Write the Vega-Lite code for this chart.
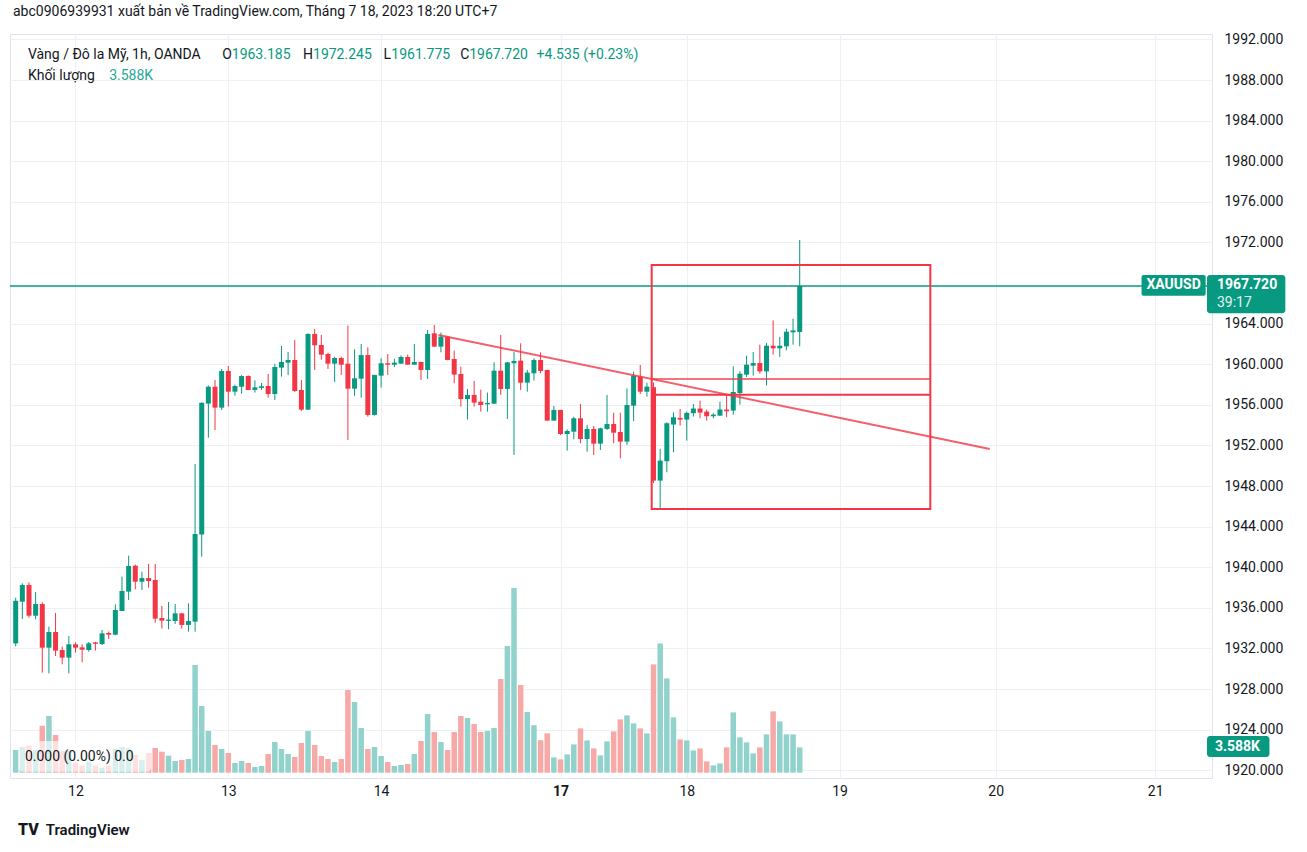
{
  "$schema": "https://vega.github.io/schema/vega-lite/v6.json",
  "width": 1202,
  "height": 744,
  "autosize": {"type": "none"},
  "padding": {"left": 10, "top": 34, "right": 95, "bottom": 74},
  "background": "#ffffff",
  "config": {
    "view": {"stroke": "#e0e3eb", "strokeWidth": 1},
    "font": "Roboto",
    "text": {"font": "Roboto"}
  },
  "title": {
    "text": "abc0906939931 xuất bản về TradingView.com, Tháng 7 18, 2023 18:20 UTC+7",
    "anchor": "start",
    "frame": "group",
    "dx": 3,
    "offset": 13,
    "fontSize": 14,
    "font": "Roboto",
    "fontWeight": "normal",
    "color": "#131722"
  },
  "datasets": {
    "bars": [
      {"i": -9, "o": 1932.5, "h": 1937.0, "l": 1932.2, "c": 1936.7, "v": 3219},
      {"i": -8, "o": 1936.61, "h": 1938.42, "l": 1934.91, "c": 1938.26, "v": 3687},
      {"i": -7, "o": 1938.26, "h": 1938.52, "l": 1935.04, "c": 1935.23, "v": 3829},
      {"i": -6, "o": 1935.23, "h": 1937.57, "l": 1934.87, "c": 1936.38, "v": 3219},
      {"i": -5, "o": 1936.38, "h": 1936.55, "l": 1929.62, "c": 1932.08, "v": 6665},
      {"i": -4, "o": 1932.08, "h": 1934.15, "l": 1929.55, "c": 1933.62, "v": 8040},
      {"i": -3, "o": 1933.62, "h": 1935.5, "l": 1931.26, "c": 1931.79, "v": 5346},
      {"i": -2, "o": 1931.85, "h": 1932.18, "l": 1930.44, "c": 1931.1, "v": 3077},
      {"i": -1, "o": 1931.1, "h": 1933.23, "l": 1929.55, "c": 1932.41, "v": 3077},
      {"i": 0, "o": 1932.41, "h": 1932.61, "l": 1931.59, "c": 1932.08, "v": 1461},
      {"i": 1, "o": 1932.11, "h": 1932.41, "l": 1930.64, "c": 1931.88, "v": 993},
      {"i": 2, "o": 1931.85, "h": 1932.64, "l": 1931.69, "c": 1932.51, "v": 1560},
      {"i": 3, "o": 1932.6, "h": 1932.66, "l": 1931.79, "c": 1932.46, "v": 993},
      {"i": 4, "o": 1932.44, "h": 1933.82, "l": 1932.34, "c": 1933.49, "v": 709},
      {"i": 5, "o": 1933.53, "h": 1933.66, "l": 1932.94, "c": 1933.36, "v": 993},
      {"i": 6, "o": 1933.36, "h": 1936.35, "l": 1933.3, "c": 1935.79, "v": 3361},
      {"i": 7, "o": 1935.69, "h": 1939.08, "l": 1935.69, "c": 1937.67, "v": 3644},
      {"i": 8, "o": 1937.6, "h": 1941.15, "l": 1936.78, "c": 1940.13, "v": 3502},
      {"i": 9, "o": 1940.16, "h": 1940.26, "l": 1937.83, "c": 1938.58, "v": 2510},
      {"i": 10, "o": 1938.58, "h": 1939.57, "l": 1937.76, "c": 1938.94, "v": 1801},
      {"i": 11, "o": 1938.94, "h": 1940.33, "l": 1937.99, "c": 1938.65, "v": 2793},
      {"i": 12, "o": 1938.75, "h": 1940.33, "l": 1934.54, "c": 1934.94, "v": 3502},
      {"i": 13, "o": 1935.0, "h": 1936.19, "l": 1933.96, "c": 1934.74, "v": 2978},
      {"i": 14, "o": 1934.72, "h": 1936.58, "l": 1933.89, "c": 1934.84, "v": 2411},
      {"i": 15, "o": 1934.71, "h": 1936.38, "l": 1934.41, "c": 1935.46, "v": 1659},
      {"i": 16, "o": 1935.46, "h": 1935.5, "l": 1933.96, "c": 1934.32, "v": 1801},
      {"i": 17, "o": 1934.32, "h": 1936.45, "l": 1933.66, "c": 1934.71, "v": 1943},
      {"i": 18, "o": 1934.64, "h": 1950.18, "l": 1933.66, "c": 1943.28, "v": 15272},
      {"i": 19, "o": 1943.22, "h": 1956.25, "l": 1941.05, "c": 1956.22, "v": 9458},
      {"i": 20, "o": 1956.12, "h": 1957.92, "l": 1952.77, "c": 1957.79, "v": 5913},
      {"i": 21, "o": 1957.79, "h": 1958.45, "l": 1953.52, "c": 1955.73, "v": 3928},
      {"i": 22, "o": 1955.73, "h": 1959.54, "l": 1955.5, "c": 1959.34, "v": 3361},
      {"i": 23, "o": 1959.34, "h": 1959.83, "l": 1955.83, "c": 1957.3, "v": 2793},
      {"i": 24, "o": 1957.3, "h": 1957.99, "l": 1956.9, "c": 1957.86, "v": 1375},
      {"i": 25, "o": 1957.79, "h": 1958.94, "l": 1957.1, "c": 1958.84, "v": 1659},
      {"i": 26, "o": 1958.85, "h": 1958.9, "l": 1957.45, "c": 1957.47, "v": 1375},
      {"i": 27, "o": 1957.47, "h": 1958.42, "l": 1957.21, "c": 1957.73, "v": 808},
      {"i": 28, "o": 1957.67, "h": 1958.16, "l": 1957.47, "c": 1957.83, "v": 950},
      {"i": 29, "o": 1957.86, "h": 1959.04, "l": 1956.71, "c": 1957.07, "v": 2652},
      {"i": 30, "o": 1957.07, "h": 1960.06, "l": 1956.48, "c": 1959.73, "v": 4353},
      {"i": 31, "o": 1959.67, "h": 1961.8, "l": 1958.78, "c": 1960.23, "v": 3361},
      {"i": 32, "o": 1960.16, "h": 1961.21, "l": 1958.95, "c": 1960.42, "v": 2652},
      {"i": 33, "o": 1960.42, "h": 1962.39, "l": 1957.27, "c": 1957.37, "v": 2226},
      {"i": 34, "o": 1957.47, "h": 1958.45, "l": 1955.4, "c": 1955.53, "v": 4211},
      {"i": 35, "o": 1955.53, "h": 1963.05, "l": 1955.5, "c": 1962.99, "v": 5913},
      {"i": 36, "o": 1962.99, "h": 1963.48, "l": 1959.44, "c": 1961.87, "v": 3928},
      {"i": 37, "o": 1961.9, "h": 1962.89, "l": 1960.46, "c": 1960.95, "v": 2368},
      {"i": 38, "o": 1961.01, "h": 1961.14, "l": 1959.54, "c": 1960.06, "v": 1943},
      {"i": 39, "o": 1960.06, "h": 1960.75, "l": 1958.26, "c": 1960.62, "v": 1517},
      {"i": 40, "o": 1960.62, "h": 1960.75, "l": 1958.95, "c": 1959.96, "v": 1943},
      {"i": 41, "o": 1960.06, "h": 1963.81, "l": 1952.55, "c": 1957.6, "v": 11727},
      {"i": 42, "o": 1957.6, "h": 1961.47, "l": 1956.91, "c": 1958.62, "v": 10025},
      {"i": 43, "o": 1958.58, "h": 1962.0, "l": 1956.71, "c": 1960.91, "v": 6338},
      {"i": 44, "o": 1960.91, "h": 1961.67, "l": 1954.84, "c": 1955.01, "v": 3361},
      {"i": 45, "o": 1955.01, "h": 1958.97, "l": 1954.94, "c": 1958.95, "v": 3644},
      {"i": 46, "o": 1958.88, "h": 1960.59, "l": 1957.7, "c": 1960.1, "v": 2368},
      {"i": 47, "o": 1960.1, "h": 1961.01, "l": 1958.95, "c": 1959.96, "v": 1517},
      {"i": 48, "o": 1959.96, "h": 1960.55, "l": 1959.73, "c": 1960.16, "v": 950},
      {"i": 49, "o": 1960.06, "h": 1960.88, "l": 1960.04, "c": 1960.72, "v": 1092},
      {"i": 50, "o": 1960.72, "h": 1960.95, "l": 1959.94, "c": 1959.96, "v": 1234},
      {"i": 51, "o": 1959.96, "h": 1962.0, "l": 1959.94, "c": 1960.23, "v": 2652},
      {"i": 52, "o": 1960.23, "h": 1960.25, "l": 1958.45, "c": 1959.44, "v": 4495},
      {"i": 53, "o": 1959.44, "h": 1963.38, "l": 1958.55, "c": 1962.99, "v": 8324},
      {"i": 54, "o": 1963.05, "h": 1963.87, "l": 1961.72, "c": 1961.74, "v": 5771},
      {"i": 55, "o": 1961.74, "h": 1963.12, "l": 1961.18, "c": 1962.72, "v": 4353},
      {"i": 56, "o": 1962.72, "h": 1962.74, "l": 1960.4, "c": 1960.42, "v": 3219},
      {"i": 57, "o": 1960.52, "h": 1961.34, "l": 1958.12, "c": 1958.98, "v": 5771},
      {"i": 58, "o": 1959.04, "h": 1959.77, "l": 1955.83, "c": 1956.58, "v": 8040},
      {"i": 59, "o": 1956.58, "h": 1957.57, "l": 1954.55, "c": 1956.98, "v": 7756},
      {"i": 60, "o": 1956.98, "h": 1958.36, "l": 1955.83, "c": 1956.22, "v": 6906},
      {"i": 61, "o": 1956.32, "h": 1957.5, "l": 1955.33, "c": 1955.99, "v": 5771},
      {"i": 62, "o": 1956.06, "h": 1957.21, "l": 1955.33, "c": 1956.19, "v": 5913},
      {"i": 63, "o": 1956.12, "h": 1960.19, "l": 1956.1, "c": 1959.37, "v": 6338},
      {"i": 64, "o": 1959.37, "h": 1962.89, "l": 1956.98, "c": 1957.57, "v": 13287},
      {"i": 65, "o": 1957.57, "h": 1960.21, "l": 1954.61, "c": 1960.19, "v": 17966},
      {"i": 66, "o": 1960.1, "h": 1961.21, "l": 1951.07, "c": 1960.33, "v": 26190},
      {"i": 67, "o": 1960.36, "h": 1962.07, "l": 1957.47, "c": 1958.19, "v": 12436},
      {"i": 68, "o": 1958.19, "h": 1959.44, "l": 1957.3, "c": 1959.18, "v": 8607},
      {"i": 69, "o": 1959.11, "h": 1960.59, "l": 1958.39, "c": 1960.42, "v": 6736},
      {"i": 70, "o": 1960.42, "h": 1961.18, "l": 1959.11, "c": 1959.34, "v": 4609},
      {"i": 71, "o": 1959.44, "h": 1959.46, "l": 1954.43, "c": 1954.45, "v": 5573},
      {"i": 72, "o": 1954.45, "h": 1955.89, "l": 1954.43, "c": 1955.5, "v": 2170},
      {"i": 73, "o": 1955.5, "h": 1955.52, "l": 1953.03, "c": 1953.13, "v": 1886},
      {"i": 74, "o": 1953.13, "h": 1953.59, "l": 1951.49, "c": 1953.43, "v": 2595},
      {"i": 75, "o": 1953.36, "h": 1954.84, "l": 1952.61, "c": 1954.68, "v": 4013},
      {"i": 76, "o": 1954.68, "h": 1956.09, "l": 1952.21, "c": 1952.64, "v": 6282},
      {"i": 77, "o": 1952.64, "h": 1954.02, "l": 1951.39, "c": 1953.63, "v": 4580},
      {"i": 78, "o": 1953.63, "h": 1953.92, "l": 1951.06, "c": 1952.18, "v": 3446},
      {"i": 79, "o": 1952.18, "h": 1953.76, "l": 1951.56, "c": 1953.69, "v": 2453},
      {"i": 80, "o": 1953.63, "h": 1956.98, "l": 1953.53, "c": 1954.12, "v": 4438},
      {"i": 81, "o": 1954.12, "h": 1955.23, "l": 1952.21, "c": 1953.26, "v": 5856},
      {"i": 82, "o": 1953.33, "h": 1955.23, "l": 1950.74, "c": 1952.38, "v": 7558},
      {"i": 83, "o": 1952.38, "h": 1957.63, "l": 1952.05, "c": 1955.99, "v": 8125},
      {"i": 84, "o": 1955.92, "h": 1959.27, "l": 1954.41, "c": 1958.88, "v": 6991},
      {"i": 85, "o": 1958.78, "h": 1959.93, "l": 1957.07, "c": 1957.3, "v": 6282},
      {"i": 86, "o": 1957.3, "h": 1958.19, "l": 1956.81, "c": 1957.8, "v": 5573},
      {"i": 87, "o": 1957.74, "h": 1958.2, "l": 1948.3, "c": 1948.54, "v": 15357},
      {"i": 88, "o": 1948.54, "h": 1951.66, "l": 1945.85, "c": 1950.51, "v": 18335},
      {"i": 89, "o": 1950.45, "h": 1954.29, "l": 1949.36, "c": 1954.19, "v": 13372},
      {"i": 90, "o": 1954.06, "h": 1955.27, "l": 1951.33, "c": 1954.78, "v": 7842},
      {"i": 91, "o": 1954.72, "h": 1955.6, "l": 1953.96, "c": 1954.55, "v": 4722},
      {"i": 92, "o": 1954.55, "h": 1955.34, "l": 1952.48, "c": 1955.21, "v": 4580},
      {"i": 93, "o": 1955.18, "h": 1956.1, "l": 1954.85, "c": 1955.64, "v": 3162},
      {"i": 94, "o": 1955.64, "h": 1956.42, "l": 1954.68, "c": 1955.24, "v": 3446},
      {"i": 95, "o": 1955.34, "h": 1955.54, "l": 1954.45, "c": 1954.88, "v": 1602},
      {"i": 96, "o": 1954.88, "h": 1955.18, "l": 1954.68, "c": 1955.04, "v": 1035},
      {"i": 97, "o": 1954.94, "h": 1956.33, "l": 1954.92, "c": 1955.54, "v": 1319},
      {"i": 98, "o": 1955.54, "h": 1956.92, "l": 1954.78, "c": 1955.37, "v": 3588},
      {"i": 99, "o": 1955.44, "h": 1959.8, "l": 1955.03, "c": 1957.27, "v": 8551},
      {"i": 100, "o": 1957.17, "h": 1959.3, "l": 1956.02, "c": 1959.07, "v": 5006},
      {"i": 101, "o": 1958.98, "h": 1960.85, "l": 1958.75, "c": 1959.96, "v": 4297},
      {"i": 102, "o": 1959.86, "h": 1961.21, "l": 1958.88, "c": 1960.12, "v": 2737},
      {"i": 103, "o": 1960.12, "h": 1961.93, "l": 1959.07, "c": 1959.3, "v": 3588},
      {"i": 104, "o": 1959.3, "h": 1962.1, "l": 1957.92, "c": 1961.83, "v": 5431},
      {"i": 105, "o": 1961.83, "h": 1964.33, "l": 1960.95, "c": 1961.57, "v": 8692},
      {"i": 106, "o": 1961.57, "h": 1962.69, "l": 1960.72, "c": 1961.83, "v": 7274},
      {"i": 107, "o": 1961.77, "h": 1963.51, "l": 1961.37, "c": 1963.21, "v": 5431},
      {"i": 108, "o": 1963.15, "h": 1964.49, "l": 1961.93, "c": 1963.34, "v": 5431},
      {"i": 109, "o": 1963.185, "h": 1972.245, "l": 1961.775, "c": 1967.72, "v": 3588}
    ]
  },
  "resolve": {"scale": {"y": "independent"}},
  "layer": [
    {
      "data": {"name": "bars"},
      "mark": {"type": "bar", "size": 5.5, "clip": true},
      "encoding": {
        "x": {
          "field": "i", "type": "quantitative",
          "scale": {"domain": [-9.104, 170.3], "nice": false, "zero": false},
          "axis": {
            "title": null,
            "orient": "bottom",
            "values": [0, 23, 46, 73, 92, 115, 138.5, 162.5],
            "labelExpr": "datum.value == 0 ? '12' : datum.value == 23 ? '13' : datum.value == 46 ? '14' : datum.value == 73 ? '17' : datum.value == 92 ? '18' : datum.value == 115 ? '19' : datum.value == 138.5 ? '20' : '21'",
            "grid": true,
            "gridColor": "#eef0f4",
            "gridWidth": 1,
            "labels": true,
            "domain": false,
            "ticks": false,
            "labelPadding": 6,
            "labelFontSize": 14,
            "labelFont": "Roboto",
            "labelColor": "#131722",
            "labelFontWeight": {"condition": {"test": "datum.value == 73", "value": "bold"}, "value": "normal"},
            "labelOverlap": false,
            "labelBound": false,
            "labelFlush": false,
            "zindex": 0
          }
        },
        "y": {"field": "v", "type": "quantitative", "scale": {"domain": [-752, 104748], "nice": false, "zero": false}, "axis": null},
        "y2": {"datum": 0},
        "color": {"condition": {"test": "datum.c >= datum.o", "value": "#92d2cc"}, "value": "#f7a9a7"}
      }
    },
    {
      "layer": [
        {
          "data": {"name": "bars"},
          "mark": {"type": "rule", "strokeWidth": 1, "clip": true},
          "encoding": {
            "x": {"field": "i", "type": "quantitative", "scale": {"domain": [-9.104, 170.3], "nice": false, "zero": false}},
            "y": {
              "field": "l", "type": "quantitative",
              "scale": {"domain": [1919.24, 1992.54], "nice": false, "zero": false},
              "axis": {
                "title": null,
                "orient": "right",
                "values": [1920, 1924, 1928, 1932, 1936, 1940, 1944, 1948, 1952, 1956, 1960, 1964, 1972, 1976, 1980, 1984, 1988, 1992],
                "format": ".3f",
                "grid": true,
                "gridColor": "#eef0f4",
                "gridWidth": 1,
                "labels": true,
                "domain": false,
                "ticks": false,
                "labelPadding": 12,
                "labelFontSize": 14,
                "labelFont": "Roboto",
                "labelColor": "#131722",
                "labelOverlap": false,
                "labelBound": false,
                "labelFlush": false,
                "zindex": 0
              }
            },
            "y2": {"field": "h"},
            "color": {"condition": {"test": "datum.c >= datum.o", "value": "#089981"}, "value": "#f23645"}
          }
        },
        {
          "data": {"name": "bars"},
          "mark": {"type": "bar", "size": 5, "clip": true},
          "encoding": {
            "x": {"field": "i", "type": "quantitative"},
            "y": {"field": "o", "type": "quantitative"},
            "y2": {"field": "c"},
            "color": {"condition": {"test": "datum.c >= datum.o", "value": "#089981"}, "value": "#f23645"}
          }
        },
        {
          "data": {"values": [{}]},
          "mark": {"type": "rule", "color": "#089981", "strokeWidth": 1.5},
          "encoding": {
            "y": {"datum": 1967.72, "type": "quantitative"}
          }
        },
        {
          "data": {"values": [{"i": 54.63, "p": 1962.89}, {"i": 137.6, "p": 1951.66}]},
          "mark": {"type": "line", "color": "#f23645", "strokeWidth": 2, "opacity": 0.8},
          "encoding": {
            "x": {"field": "i", "type": "quantitative"},
            "y": {"field": "p", "type": "quantitative"}
          }
        },
        {
          "data": {"values": [{}]},
          "mark": {"type": "rect", "fillOpacity": 0, "fill": "#ffffff", "stroke": "#f23645", "strokeWidth": 2},
          "encoding": {
            "x": {"datum": 86.72, "type": "quantitative"},
            "x2": {"datum": 128.66},
            "y": {"datum": 1969.78, "type": "quantitative"},
            "y2": {"datum": 1945.74}
          }
        },
        {
          "data": {"values": [{}]},
          "mark": {"type": "rule", "color": "#f23645", "strokeWidth": 2, "opacity": 0.7},
          "encoding": {
            "x": {"datum": 86.72, "type": "quantitative"},
            "x2": {"datum": 128.66},
            "y": {"datum": 1958.55, "type": "quantitative"}
          }
        },
        {
          "data": {"values": [{}]},
          "mark": {"type": "rule", "color": "#f23645", "strokeWidth": 2},
          "encoding": {
            "x": {"datum": 86.72, "type": "quantitative"},
            "x2": {"datum": 128.66},
            "y": {"datum": 1956.99, "type": "quantitative"}
          }
        },
        {
          "data": {"values": [{}]},
          "mark": {"type": "rect", "fill": "#ffffff", "opacity": 0.65, "cornerRadius": 4},
          "encoding": {
            "x": {"datum": -8.61, "type": "quantitative"},
            "x2": {"datum": 11.39},
            "y": {"datum": 1922.89, "type": "quantitative"},
            "y2": {"datum": 1919.85}
          }
        },
        {
          "data": {"values": [{}]},
          "mark": {"type": "text", "text": "0.000 (0.00%) 0.0", "align": "left", "baseline": "middle", "fontSize": 14, "color": "#131722"},
          "encoding": {
            "x": {"datum": -7.61, "type": "quantitative"},
            "y": {"datum": 1921.34, "type": "quantitative"}
          }
        },
        {
          "data": {"values": [{}]},
          "mark": {"type": "text", "text": "Vàng / Đô la Mỹ, 1h, OANDA", "align": "left", "baseline": "middle", "fontSize": 14, "color": "#131722"},
          "encoding": {"x": {"datum": -7.164, "type": "quantitative"}, "y": {"datum": 1990.5, "type": "quantitative"}}
        },
        {
          "data": {"values": [{}]},
          "mark": {"type": "text", "text": "O", "align": "left", "baseline": "middle", "fontSize": 14, "color": "#131722"},
          "encoding": {"x": {"datum": 22.09, "type": "quantitative"}, "y": {"datum": 1990.5, "type": "quantitative"}}
        },
        {
          "data": {"values": [{}]},
          "mark": {"type": "text", "text": "1963.185", "align": "left", "baseline": "middle", "fontSize": 14, "color": "#089981"},
          "encoding": {"x": {"datum": 23.52, "type": "quantitative"}, "y": {"datum": 1990.5, "type": "quantitative"}}
        },
        {
          "data": {"values": [{}]},
          "mark": {"type": "text", "text": "H", "align": "left", "baseline": "middle", "fontSize": 14, "color": "#131722"},
          "encoding": {"x": {"datum": 34.24, "type": "quantitative"}, "y": {"datum": 1990.5, "type": "quantitative"}}
        },
        {
          "data": {"values": [{}]},
          "mark": {"type": "text", "text": "1972.245", "align": "left", "baseline": "middle", "fontSize": 14, "color": "#089981"},
          "encoding": {"x": {"datum": 35.75, "type": "quantitative"}, "y": {"datum": 1990.5, "type": "quantitative"}}
        },
        {
          "data": {"values": [{}]},
          "mark": {"type": "text", "text": "L", "align": "left", "baseline": "middle", "fontSize": 14, "color": "#131722"},
          "encoding": {"x": {"datum": 46.34, "type": "quantitative"}, "y": {"datum": 1990.5, "type": "quantitative"}}
        },
        {
          "data": {"values": [{}]},
          "mark": {"type": "text", "text": "1961.775", "align": "left", "baseline": "middle", "fontSize": 14, "color": "#089981"},
          "encoding": {"x": {"datum": 47.54, "type": "quantitative"}, "y": {"datum": 1990.5, "type": "quantitative"}}
        },
        {
          "data": {"values": [{}]},
          "mark": {"type": "text", "text": "C", "align": "left", "baseline": "middle", "fontSize": 14, "color": "#131722"},
          "encoding": {"x": {"datum": 57.91, "type": "quantitative"}, "y": {"datum": 1990.5, "type": "quantitative"}}
        },
        {
          "data": {"values": [{}]},
          "mark": {"type": "text", "text": "1967.720", "align": "left", "baseline": "middle", "fontSize": 14, "color": "#089981"},
          "encoding": {"x": {"datum": 59.25, "type": "quantitative"}, "y": {"datum": 1990.5, "type": "quantitative"}}
        },
        {
          "data": {"values": [{}]},
          "mark": {"type": "text", "text": "+4.535 (+0.23%)", "align": "left", "baseline": "middle", "fontSize": 14, "color": "#089981"},
          "encoding": {"x": {"datum": 69.4, "type": "quantitative"}, "y": {"datum": 1990.5, "type": "quantitative"}}
        },
        {
          "data": {"values": [{}]},
          "mark": {"type": "text", "text": "Khối lượng", "align": "left", "baseline": "middle", "fontSize": 14, "color": "#131722"},
          "encoding": {"x": {"datum": -7.164, "type": "quantitative"}, "y": {"datum": 1988.45, "type": "quantitative"}}
        },
        {
          "data": {"values": [{}]},
          "mark": {"type": "text", "text": "3.588K", "align": "left", "baseline": "middle", "fontSize": 14, "color": "#26a69a"},
          "encoding": {"x": {"datum": 5.07, "type": "quantitative"}, "y": {"datum": 1988.45, "type": "quantitative"}}
        },
        {
          "data": {"values": [{}]},
          "mark": {"type": "rect", "fill": "#089981", "cornerRadius": 2, "clip": false},
          "encoding": {
            "x": {"datum": 160.45, "type": "quantitative"},
            "x2": {"datum": 170.1},
            "y": {"datum": 1968.8, "type": "quantitative"},
            "y2": {"datum": 1966.76}
          }
        },
        {
          "data": {"values": [{}]},
          "mark": {"type": "text", "text": "XAUUSD", "align": "center", "baseline": "middle", "fontSize": 14, "fontWeight": "bold", "color": "#ffffff", "clip": false},
          "encoding": {"x": {"datum": 165.27, "type": "quantitative"}, "y": {"datum": 1967.78, "type": "quantitative"}}
        },
        {
          "data": {"values": [{}]},
          "mark": {"type": "rect", "fill": "#089981", "cornerRadius": 3, "clip": false},
          "encoding": {
            "x": {"datum": 170.3, "type": "quantitative"},
            "x2": {"datum": 182.09},
            "y": {"datum": 1968.8, "type": "quantitative"},
            "y2": {"datum": 1965.02}
          }
        },
        {
          "data": {"values": [{}]},
          "mark": {"type": "text", "text": "1967.720", "align": "left", "baseline": "middle", "fontSize": 14, "fontWeight": "bold", "color": "#ffffff", "clip": false},
          "encoding": {"x": {"datum": 171.79, "type": "quantitative"}, "y": {"datum": 1967.81, "type": "quantitative"}}
        },
        {
          "data": {"values": [{}]},
          "mark": {"type": "text", "text": "39:17", "align": "left", "baseline": "middle", "fontSize": 14, "color": "#e6f5f2", "clip": false},
          "encoding": {"x": {"datum": 171.79, "type": "quantitative"}, "y": {"datum": 1966.04, "type": "quantitative"}}
        },
        {
          "data": {"values": [{}]},
          "mark": {"type": "rect", "fill": "#089981", "cornerRadius": 3, "clip": false},
          "encoding": {
            "x": {"datum": 170.3, "type": "quantitative"},
            "x2": {"datum": 179.7},
            "y": {"datum": 1923.38, "type": "quantitative"},
            "y2": {"datum": 1921.31}
          }
        },
        {
          "data": {"values": [{}]},
          "mark": {"type": "text", "text": "3.588K", "align": "left", "baseline": "middle", "fontSize": 14, "fontWeight": "bold", "color": "#ffffff", "clip": false},
          "encoding": {"x": {"datum": 171.49, "type": "quantitative"}, "y": {"datum": 1922.34, "type": "quantitative"}}
        },
        {
          "data": {"values": [{}]},
          "mark": {"type": "text", "text": "TV", "align": "left", "baseline": "middle", "fontSize": 16, "fontWeight": 900, "color": "#131722", "clip": false},
          "encoding": {"x": {"datum": -8.66, "type": "quantitative"}, "y": {"datum": 1914.12, "type": "quantitative"}}
        },
        {
          "data": {"values": [{}]},
          "mark": {"type": "text", "text": "TradingView", "align": "left", "baseline": "middle", "fontSize": 15, "fontWeight": 600, "color": "#131722", "clip": false},
          "encoding": {"x": {"datum": -4.48, "type": "quantitative"}, "y": {"datum": 1914.12, "type": "quantitative"}}
        }
      ]
    }
  ]
}
